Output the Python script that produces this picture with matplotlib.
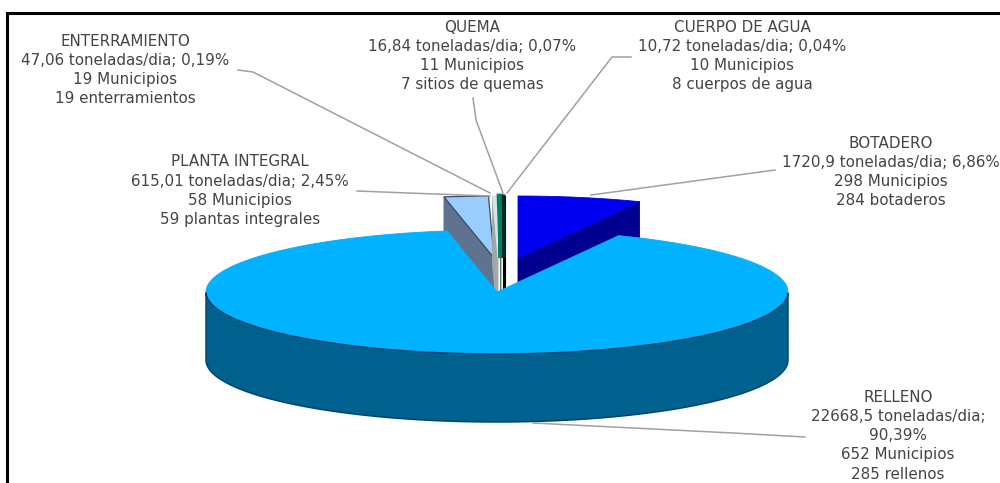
import numpy as np
import matplotlib
matplotlib.use("Agg")
import matplotlib.pyplot as plt

# Data
categories = ["BOTADERO", "RELLENO", "PLANTA INTEGRAL", "ENTERRAMIENTO", "QUEMA", "CUERPO DE AGUA"]
percent = [6.86, 90.39, 2.45, 0.19, 0.07, 0.04]
label_lines = [
    ["BOTADERO", "1720,9 toneladas/dia; 6,86%", "298 Municipios", "284 botaderos"],
    ["RELLENO", "22668,5 toneladas/dia;", "90,39%", "652 Municipios", "285 rellenos"],
    ["PLANTA INTEGRAL", "615,01 toneladas/dia; 2,45%", "58 Municipios", "59 plantas integrales"],
    ["ENTERRAMIENTO", "47,06 toneladas/dia; 0,19%", "19 Municipios", "19 enterramientos"],
    ["QUEMA", "16,84 toneladas/dia; 0,07%", "11 Municipios", "7 sitios de quemas"],
    ["CUERPO DE AGUA", "10,72 toneladas/dia; 0,04%", "10 Municipios", "8 cuerpos de agua"],
]

# Style / layout (pixel space)
W, H = 1000, 483
RX, RY, DEPTH = 291, 62, 68
apex = {0: (518, 258), 1: (497, 292), 2: (494, 258), 3: (498, 258), 4: (501, 258), 5: (504, 258)}
top_col = ["#0000F0", "#00B2FF", "#99CCFF", "#D8E4E4", "#00806A", "#002A22"]
top_edge = ["#0000F0", "#00B2FF", "#3A4A5E", "#D8E4E4", "#00806A", "#002A22"]
top_lw = [0.6, 0.6, 0.9, 0.6, 3.4, 2.2]
side_col = ["#000090", "#00618F", "#5F7390", "#A0A8A8", "#5A7A70", "#000000"]
label_xy = [(891, 143), (898, 397), (240, 162), (125, 41), (472, 27), (742, 27)]
line_step = 19.3
leaders = [
    [(775, 170), (591, 195)],
    [(805, 437), (733, 433), (533, 423)],
    [(357, 191), (408, 193), (490, 196)],
    [(238, 70), (253, 72), (490, 193)],
    [(473, 98), (476, 120), (503, 193)],
    [(631, 57), (612, 57), (507, 193)],
]
TXT = "#444444"
RIM = "#00466E"

fig = plt.figure(figsize=(W / 100, H / 100), dpi=100)
ax = fig.add_axes([0, 0, 1, 1])
ax.set_xlim(0, W)
ax.set_ylim(H, 0)
ax.axis("off")

# Frame
ax.plot([7, 7, 1000], [483, 13, 13], color="black", lw=2.2, solid_joinstyle="miter", zorder=1)

# Slice angles, clockwise from twelve o'clock
edges = np.radians(np.concatenate([[0], np.cumsum(percent)]) / sum(percent) * 360)


def rim(i, t):
    cx, cy = apex[i]
    return cx + RX * np.sin(t), cy - RY * np.cos(t)


def draw_slice(i, z):
    a, b = edges[i], edges[i + 1]
    cx, cy = apex[i]
    ts = np.linspace(a, b, 360)
    x, y = rim(i, ts)
    # cut faces
    for t, show in ((a, i in (2, 3)), (b, i in (0, 4, 5))):
        if show:
            rx, ry = rim(i, t)
            ax.fill([cx, rx, rx, cx], [cy, ry, ry + DEPTH, cy + DEPTH],
                    fc=side_col[i], ec=side_col[i], lw=2.2 if i == 5 else 0.6, zorder=z)
    # top surface
    ax.fill(np.r_[cx, x], np.r_[cy, y], fc=top_col[i], ec=top_edge[i], lw=top_lw[i], zorder=z + 0.5)
    # outer wall (front half only) with dark rim lines
    front = np.cos(ts) < 0
    if front.any():
        fx, fy = x[front], y[front]
        ax.fill(np.r_[fx, fx[::-1]], np.r_[fy, fy[::-1] + DEPTH],
                fc=side_col[i], ec=RIM, lw=1.1, zorder=z + 0.6)


# Exploded slices first, main slice painted over them
for k, i in enumerate([0, 2, 3, 4, 5]):
    draw_slice(i, 2 + k)
draw_slice(1, 10)

# Leader lines
for pts in leaders:
    xs, ys = zip(*pts)
    ax.plot(xs, ys, color="#a0a0a0", lw=1.1, zorder=12)

# Labels
for lines, (lx, ly) in zip(label_lines, label_xy):
    for n, s in enumerate(lines):
        ax.text(lx, ly + n * line_step, s, ha="center", va="center", color=TXT,
                family="DejaVu Sans", fontsize=10.9, zorder=13)

fig.savefig("out.png", dpi=100, facecolor="white")
